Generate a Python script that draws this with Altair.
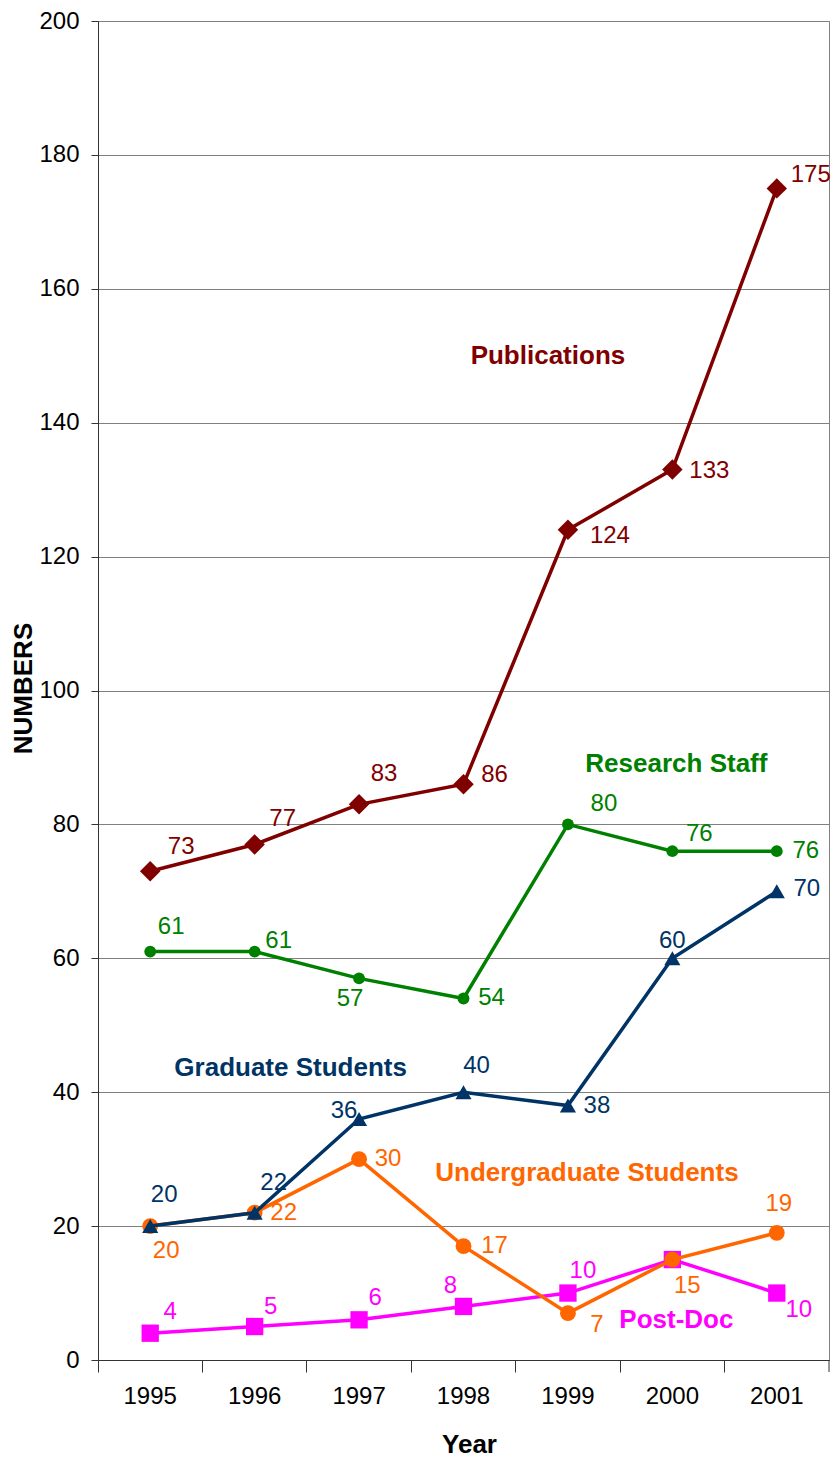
import altair as alt
import pandas as pd

# ---------------- data ----------------
YEARS = ["1995", "1996", "1997", "1998", "1999", "2000", "2001"]
PUBLICATIONS = [73, 77, 83, 86, 124, 133, 175]
RESEARCH_STAFF = [61, 61, 57, 54, 80, 76, 76]
GRADUATE = [20, 22, 36, 40, 38, 60, 70]
UNDERGRAD = [20, 22, 30, 17, 7, 15, 19]
POSTDOC = [4, 5, 6, 8, 10, 15, 10]
Y_TICKS = [0, 20, 40, 60, 80, 100, 120, 140, 160, 180, 200]

# series name annotations (name, anchor year, value level)
ANNOT_NAMES = ["Publications", "Research Staff", "Graduate Students",
               "Undergraduate Students", "Post-Doc"]
ANNOT_YEARS = ["1999", "2000", "1996", "1999", "2000"]
ANNOT_LEVELS = [150, 89, 43.6, 28, 6]

# ---------------- styles ----------------
FONT_NUM = "Liberation Sans, Arial, sans-serif"
FONT_BOLD = "Liberation Sans, Arial, sans-serif"

STYLE = {
    "Post-Doc": dict(color="#FF00FF", shape="square", size=300),
    "Undergraduate Students": dict(color="#FF6600", shape="circle", size=250),
    "Graduate Students": dict(color="#003366", shape="triangle-up", size=260),
    "Research Staff": dict(color="#008000", shape="circle", size=140),
    "Publications": dict(color="#800000", shape="diamond", size=420),
}
VALUES = {
    "Post-Doc": POSTDOC,
    "Undergraduate Students": UNDERGRAD,
    "Graduate Students": GRADUATE,
    "Research Staff": RESEARCH_STAFF,
    "Publications": PUBLICATIONS,
}
# value-label pixel offsets (dx, dy); None = no label drawn
LABEL_OFFSETS = {
    "Publications": [(31, -24), (28, -25), (25, -30), (31, -9), (42, 6), (37, 1), (34, -13)],
    "Research Staff": [(21, -25), (24, -11), (-9, 21), (28, 0), (36, -20), (27, -17), (29, 0)],
    "Graduate Students": [(14, -31), (19, -30), (-15, -8), (13, -26), (29, 0), (0, -17), (30, -2)],
    "Undergraduate Students": [(16, 25), (29, 0), (29, 0), (31, 0), (29, 12), (15, 26), (2, -29)],
    "Post-Doc": [(20, -21), (16, -20), (16, -22), (-13, -20), (15, -22), None, (22, 17)],
}
ANNOT_DX = [-20, 4, 36, 19, 4]
ORDER = ["Post-Doc", "Undergraduate Students", "Graduate Students",
         "Research Staff", "Publications"]

W, H = 731, 1339

x_enc = alt.X(
    "year:N",
    sort=YEARS,
    scale=alt.Scale(type="band", domain=YEARS, paddingInner=0, paddingOuter=0),
    axis=alt.Axis(
        title="Year",
        bandPosition=0,
        labelFont=FONT_NUM,
        labelFontSize=24,
        labelColor="#000000",
        labelBaseline="middle",
        labelPadding=24,
        tickSize=12,
        tickColor="#333333",
        domainColor="#333333",
        grid=False,
        labelAngle=0,
        titleFont=FONT_BOLD,
        titleFontSize=26,
        titleFontWeight="bold",
        titleColor="#000000",
        titleX=371,
        titleY=84,
        titleBaseline="middle",
    ),
)
y_enc = alt.Y(
    "value:Q",
    scale=alt.Scale(domain=[0, 200], nice=False, zero=True),
    axis=alt.Axis(
        title="NUMBERS",
        values=Y_TICKS,
        labelFont=FONT_NUM,
        labelFontSize=24,
        labelColor="#000000",
        labelPadding=12,
        tickSize=7,
        tickColor="#333333",
        domainColor="#333333",
        gridColor="#808080",
        gridWidth=1,
        titleFont=FONT_BOLD,
        titleFontSize=26,
        titleFontWeight="bold",
        titleColor="#000000",
        titleAngle=270,
        titleX=-75,
        titleY=667,
        titleBaseline="middle",
    ),
)

layers = []
for name in ORDER:
    st = STYLE[name]
    df = pd.DataFrame({"year": YEARS, "value": VALUES[name]})
    base = alt.Chart(df)
    layers.append(base.mark_line(color=st["color"], strokeWidth=3.5).encode(x=x_enc, y=y_enc))
    layers.append(
        base.mark_point(shape=st["shape"], size=st["size"], filled=True,
                        color=st["color"], opacity=1).encode(x=x_enc, y=y_enc)
    )

for name in ORDER:
    st = STYLE[name]
    for yr, v, off in zip(YEARS, VALUES[name], LABEL_OFFSETS[name]):
        if off is None:
            continue
        dfl = pd.DataFrame({"year": [yr], "value": [v], "label": [str(v)]})
        layers.append(
            alt.Chart(dfl).mark_text(
                font=FONT_NUM, fontSize=24, color=st["color"],
                align="center", baseline="middle", dx=off[0], dy=off[1],
            ).encode(x=x_enc, y=y_enc, text="label:N")
        )

for nm, yr, lv, dx in zip(ANNOT_NAMES, ANNOT_YEARS, ANNOT_LEVELS, ANNOT_DX):
    dfa = pd.DataFrame({"year": [yr], "value": [lv], "label": [nm]})
    layers.append(
        alt.Chart(dfa).mark_text(
            font=FONT_BOLD, fontSize=26, fontWeight="bold",
            color=STYLE[nm]["color"], align="center", baseline="middle", dx=dx,
        ).encode(x=x_enc, y=y_enc, text="label:N")
    )

# closing tick at the right end of the category axis
layers.append(
    alt.Chart(pd.DataFrame({"a": [0]})).mark_rule(color="#333333", strokeWidth=1).encode(
        x=alt.value(W), y=alt.value(H), y2=alt.value(H + 12)
    )
)

chart = (
    alt.layer(*layers)
    .properties(
        width=W,
        height=H,
        autosize=alt.AutoSizeParams(type="none"),
        padding={"left": 90, "top": 13, "right": 1, "bottom": 100},
        background="#FFFFFF",
    )
    .configure_view(stroke="#808080", strokeWidth=1)
)

chart.save("out.html", embed_options={"renderer": "svg", "actions": False})
